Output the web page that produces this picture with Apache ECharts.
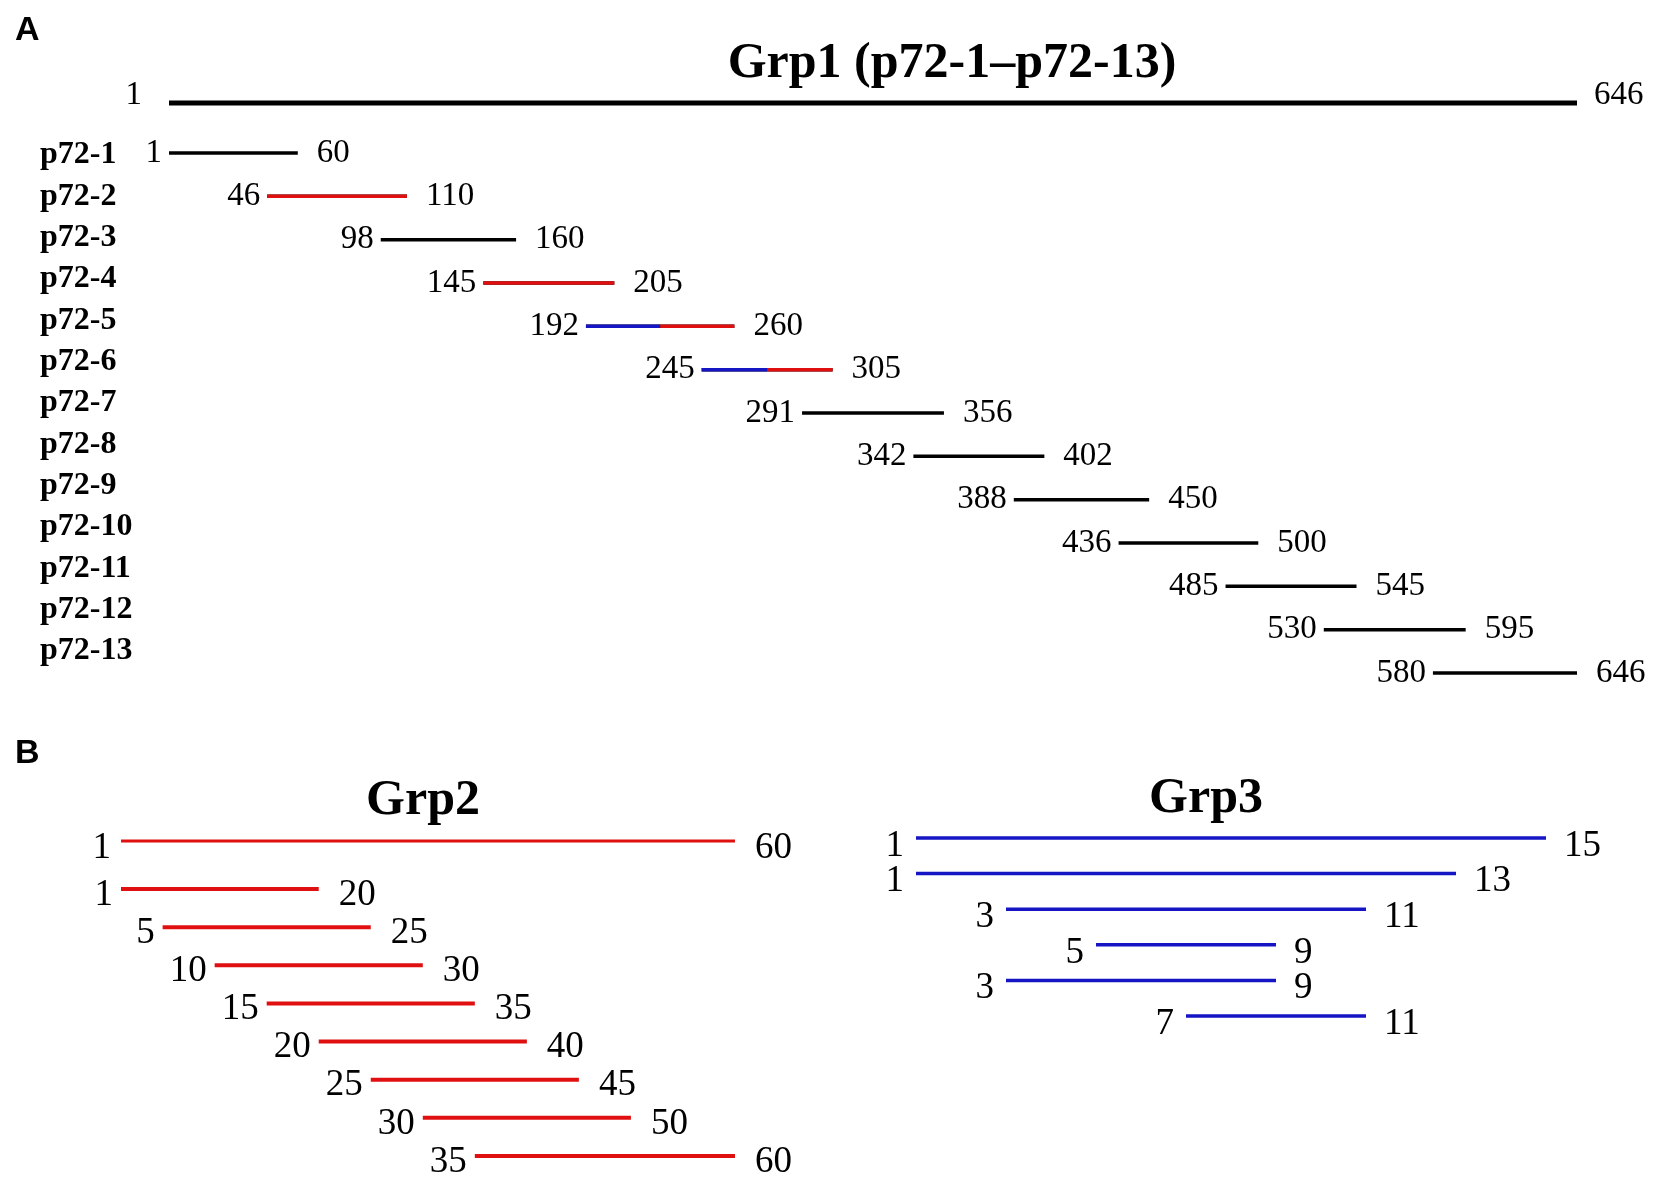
<!DOCTYPE html>
<html>
<head>
<meta charset="utf-8">
<script src="https://cdn.jsdelivr.net/npm/echarts@6/dist/echarts.min.js"></script>
<style>
  html, body { margin: 0; padding: 0; background: #fff; }
  #main { width: 1654px; height: 1179px; }
</style>
</head>
<body>
<div id="main"></div>
<script>
// Grp1: full p72 sequence and the 13 overlapping peptides
var grp1Full = [1, 646];
var grp1Rows = ['p72-1', 'p72-2', 'p72-3', 'p72-4', 'p72-5', 'p72-6', 'p72-7',
    'p72-8', 'p72-9', 'p72-10', 'p72-11', 'p72-12', 'p72-13'];
var grp1Start = [1, 46, 98, 145, 192, 245, 291, 342, 388, 436, 485, 530, 580];
var grp1End = [60, 110, 160, 205, 260, 305, 356, 402, 450, 500, 545, 595, 646];
// parts of peptides that belong to Grp2 (red) / Grp3 (blue)
var grp1Marked = [
    ['p72-2', 46, 110, 'Grp2'],
    ['p72-4', 145, 205, 'Grp2'],
    ['p72-5', 192, 226, 'Grp3'],
    ['p72-5', 226, 260, 'Grp2'],
    ['p72-6', 245, 275, 'Grp3'],
    ['p72-6', 275, 305, 'Grp2']
];
// Grp2: 60 aa fragment and its sub peptides
var grp2Full = [1, 60];
var grp2Start = [1, 5, 10, 15, 20, 25, 30, 35];
var grp2End = [20, 25, 30, 35, 40, 45, 50, 60];
// Grp3: 15 aa fragment and its sub peptides
var grp3Start = [1, 1, 3, 5, 3, 7];
var grp3End = [15, 13, 11, 9, 9, 11];

var RED = '#e01010';
var BLUE = '#1515c4';
var groupColor = { Grp2: RED, Grp3: BLUE };
var serif = '"Liberation Serif", "Times New Roman", serif';
var sans = '"Liberation Sans", Arial, sans-serif';

function rowsOf(n) {
    var a = [];
    for (var i = 0; i < n; i++) a.push(String(i));
    return a;
}

function toData(starts, ends) {
    return starts.map(function(s, i) { return [s, ends[i], i]; });
}

// draws a peptide line plus its start / end numbers
function makeRender(opt) {
    return function(params, api) {
        var row = api.value(2);
        var a = api.coord([api.value(0), row]);
        var b = api.coord([api.value(1), row]);
        var textStyle = { fontFamily: serif, fontSize: opt.fontSize, fill: '#000', verticalAlign: 'middle' };
        return {
            type: 'group',
            children: [{
                type: 'line',
                shape: { x1: a[0], y1: a[1], x2: b[0], y2: b[1] },
                style: { stroke: opt.color, lineWidth: opt.width }
            }, {
                type: 'text',
                x: a[0] - opt.startGap,
                y: a[1] + opt.dy,
                style: Object.assign({ text: String(api.value(0)), align: 'right' }, textStyle)
            }, {
                type: 'text',
                x: b[0] + opt.endGap,
                y: b[1] + opt.dy,
                style: Object.assign({ text: String(api.value(1)), align: 'left' }, textStyle)
            }]
        };
    };
}

function markRender(params, api) {
    var row = api.value(2);
    var a = api.coord([api.value(0), row]);
    var b = api.coord([api.value(1), row]);
    return {
        type: 'line',
        shape: { x1: a[0], y1: a[1], x2: b[0], y2: b[1] },
        style: { stroke: groupColor[grp1Marked[params.dataIndex][3]], lineWidth: 3.5 }
    };
}

function hiddenX(idx, min, max) {
    return { gridIndex: idx, type: 'value', min: min, max: max, show: false };
}
function hiddenY(idx, n, gap) {
    return { gridIndex: idx, type: 'category', data: rowsOf(n), inverse: true, boundaryGap: !!gap, show: false };
}
function series(grid, render, data) {
    return {
        type: 'custom',
        xAxisIndex: grid,
        yAxisIndex: grid,
        encode: { x: [0, 1], y: 2 },
        renderItem: render,
        data: data
    };
}

var myChart = echarts.init(document.getElementById('main'));

var titleStyle = { fontFamily: serif, fontWeight: 'bold', fontSize: 50, color: '#000' };
var option = {
    backgroundColor: '#fff',
    animation: false,
    title: [
        { text: 'A', left: 10, top: 9, textStyle: { fontFamily: sans, fontWeight: 'bold', fontSize: 34, color: '#000' } },
        { text: 'B', left: 10, top: 732, textStyle: { fontFamily: sans, fontWeight: 'bold', fontSize: 34, color: '#000' } },
        { text: 'Grp1 (p72-1\u2013p72-13)', left: 947, top: 34, textAlign: 'center', textStyle: titleStyle },
        { text: 'Grp2', left: 418, top: 771, textAlign: 'center', textStyle: titleStyle },
        { text: 'Grp3', left: 1201, top: 769, textAlign: 'center', textStyle: titleStyle }
    ],
    grid: [
        { left: 169, right: 77, top: 93, height: 20 },     // 0 Grp1 full length
        { left: 169, right: 77, top: 153, bottom: 506 },   // 1 Grp1 peptides
        { left: 121, right: 919, top: 831, height: 20 },   // 2 Grp2 full length
        { left: 121, right: 919, top: 889, bottom: 23 },   // 3 Grp2 peptides
        { left: 916, right: 108, top: 838, bottom: 163 },  // 4 Grp3
        { left: 169, right: 77, top: 155, bottom: 528 }    // 5 Grp1 peptide names
    ],
    xAxis: [
        hiddenX(0, 1, 646),
        hiddenX(1, 1, 646),
        hiddenX(2, 1, 60),
        hiddenX(3, 1, 60),
        hiddenX(4, 1, 15),
        hiddenX(5, 1, 646)
    ],
    yAxis: [
        hiddenY(0, 1, true),
        hiddenY(1, grp1Start.length),
        hiddenY(2, 1, true),
        hiddenY(3, grp2Start.length),
        hiddenY(4, grp3Start.length),
        {
            gridIndex: 5,
            type: 'category',
            data: grp1Rows,
            inverse: true,
            boundaryGap: false,
            axisLine: { show: false },
            axisTick: { show: false },
            splitLine: { show: false },
            axisLabel: {
                interval: 0,
                hideOverlap: false,
                margin: 129,
                align: 'left',
                color: '#000',
                fontFamily: serif,
                fontWeight: 'bold',
                fontSize: 32
            }
        }
    ],
    series: [
        series(0, makeRender({ color: '#000', width: 5, fontSize: 33, startGap: 27, endGap: 17, dy: -8 }),
            [[grp1Full[0], grp1Full[1], 0]]),
        series(1, makeRender({ color: '#000', width: 3.5, fontSize: 33, startGap: 7, endGap: 19, dy: 0 }),
            toData(grp1Start, grp1End)),
        series(1, markRender,
            grp1Marked.map(function(m) { return [m[1], m[2], grp1Rows.indexOf(m[0])]; })),
        series(2, makeRender({ color: RED, width: 3, fontSize: 37, startGap: 10, endGap: 20, dy: 7 }),
            [[grp2Full[0], grp2Full[1], 0]]),
        series(3, makeRender({ color: RED, width: 4, fontSize: 37, startGap: 8, endGap: 20, dy: 6 }),
            toData(grp2Start, grp2End)),
        series(4, makeRender({ color: BLUE, width: 3.5, fontSize: 37, startGap: 12, endGap: 18, dy: 8 }),
            toData(grp3Start, grp3End))
    ]
};

myChart.setOption(option);
</script>
</body>
</html>
